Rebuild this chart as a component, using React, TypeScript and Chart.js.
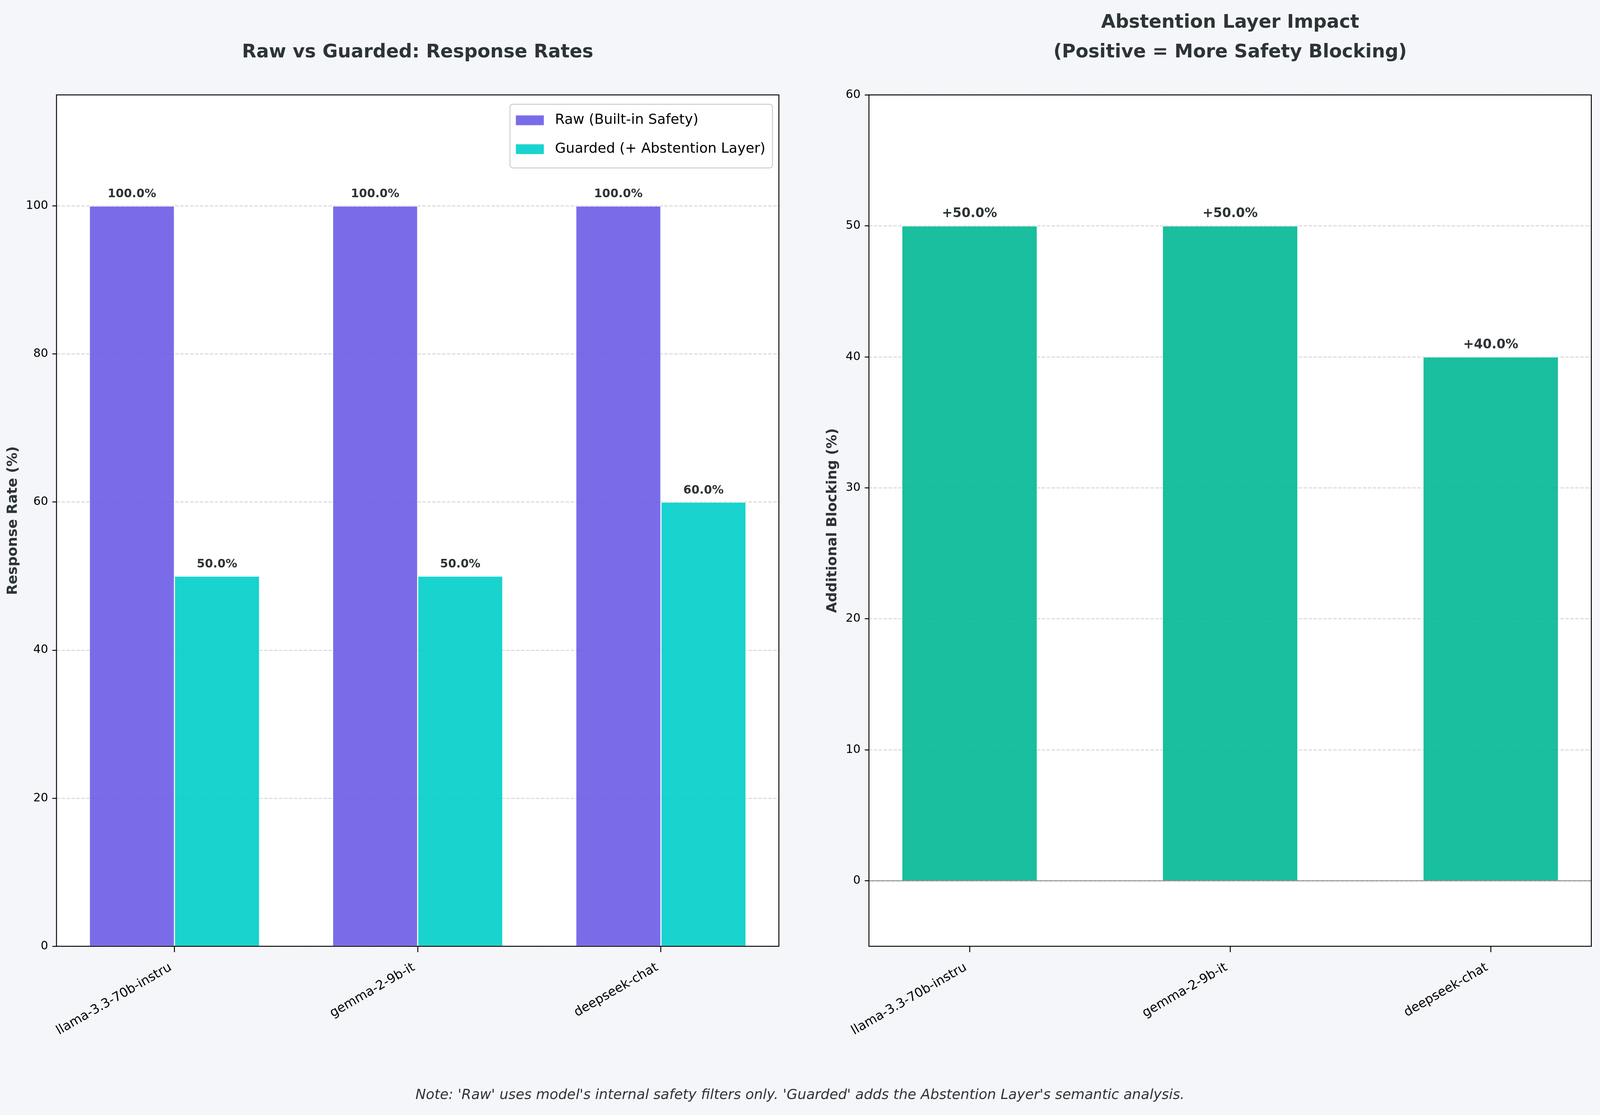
import React, { useEffect, useRef, useState } from 'react';
import { Chart, registerables } from 'chart.js';

Chart.register(...registerables);

// ---------------- data ----------------
const models = ['llama-3.3-70b-instru', 'gemma-2-9b-it', 'deepseek-chat'];
const rawRates = [100, 100, 100];
const guardedRates = [50, 50, 60];
const additionalBlocking = [50, 50, 40];
const leftYTicks = [0, 20, 40, 60, 80, 100];
const rightYTicks = [0, 10, 20, 30, 40, 50, 60];

const leftTitle = 'Raw vs Guarded: Response Rates';
const rightTitle = ['Abstention Layer Impact', '(Positive = More Safety Blocking)'];
const leftYLabel = 'Response Rate (%)';
const rightYLabel = 'Additional Blocking (%)';
const rawLabel = 'Raw (Built-in Safety)';
const guardedLabel = 'Guarded (+ Abstention Layer)';
const noteText =
  "Note: 'Raw' uses model's internal safety filters only. 'Guarded' adds the Abstention Layer's semantic analysis.";

// ---------------- style (design px of the 5721x2855 figure) ----------------
const PT = 300 / 72;
const FONT = "'DejaVu Sans', 'Noto Sans', sans-serif";
const LW = 0.8 * PT;
const TEXT_DARK = '#2d3436';
const RAW_COLOR = 'rgba(108, 92, 231, 0.9)';
const GUARD_COLOR = 'rgba(0, 206, 201, 0.9)';
const MINT_COLOR = 'rgba(0, 184, 148, 0.9)';
const GRID_COLOR = 'rgba(176, 176, 176, 0.5)';
const FIG_W = 5721;
const FIG_H = 2855;
const SPLIT = 2860;

Chart.defaults.font.family = FONT;

type Dims = { kx: number; ky: number; kf: number; W: number; H: number; leftW: number };

function getDims(): Dims {
  const vw = (typeof window !== 'undefined' && window.innerWidth) || FIG_W;
  const vh = (typeof window !== 'undefined' && window.innerHeight) || FIG_H;
  const kx = vw / FIG_W;
  const ky = vh / FIG_H;
  const kf = Math.min(kx, ky);
  const W = Math.round(FIG_W * kx);
  const H = Math.round(FIG_H * ky);
  const leftW = Math.round(SPLIT * kx);
  return { kx, ky, kf, W, H, leftW };
}

// axes background, optional zero line, spines
const framePlugin = {
  id: 'frame',
  beforeDraw(chart: any, _args: any, opts: any) {
    const { ctx, chartArea: a } = chart;
    ctx.save();
    ctx.fillStyle = '#ffffff';
    ctx.fillRect(a.left, a.top, a.right - a.left, a.bottom - a.top);
    if (opts && opts.zeroLine) {
      const y = chart.scales.y.getPixelForValue(0);
      ctx.strokeStyle = '#808080';
      ctx.lineWidth = opts.zeroWidth;
      ctx.beginPath();
      ctx.moveTo(a.left, y);
      ctx.lineTo(a.right, y);
      ctx.stroke();
    }
    ctx.restore();
  },
  afterDraw(chart: any, _args: any, opts: any) {
    const { ctx, chartArea: a } = chart;
    ctx.save();
    ctx.strokeStyle = '#000000';
    ctx.lineWidth = opts.spineWidth;
    ctx.setLineDash([]);
    ctx.strokeRect(a.left, a.top, a.right - a.left, a.bottom - a.top);
    ctx.restore();
  },
};

// value labels above bars
const barLabelPlugin = {
  id: 'barLabels',
  afterDatasetsDraw(chart: any, _args: any, opts: any) {
    const { ctx } = chart;
    ctx.save();
    ctx.font = `bold ${opts.size}px ${FONT}`;
    ctx.fillStyle = TEXT_DARK;
    ctx.textAlign = 'center';
    ctx.textBaseline = 'alphabetic';
    chart.data.datasets.forEach((ds: any, di: number) => {
      const meta = chart.getDatasetMeta(di);
      meta.data.forEach((el: any, i: number) => {
        const v = ds.data[i].y;
        ctx.fillText(`${opts.prefix}${v.toFixed(1)}%`, el.x, el.y - opts.gap);
      });
    });
    ctx.restore();
  },
};

// framed legend inside the upper right of the axes
const boxLegendPlugin = {
  id: 'boxLegend',
  afterDatasetsDraw(chart: any, _args: any, opts: any) {
    if (!opts || !opts.show) return;
    const { kx, ky, kf } = opts;
    const { ctx, chartArea: a } = chart;
    const fs = 12 * PT * kf;
    ctx.save();
    ctx.font = `${fs}px ${FONT}`;
    const items = chart.data.datasets.map((d: any) => ({ text: d.label, color: d.backgroundColor }));
    const tw = Math.max(...items.map((it: any) => ctx.measureText(it.text).width));
    const pad = 21 * kx;
    const hl = 100 * kx;
    const hp = 40 * kx;
    const rpad = 25 * kx;
    const w = pad + hl + hp + tw + rpad;
    const h = 163 * ky;
    const right = a.right - 23 * kx;
    const top = a.top + 24 * ky;
    const left = right - w;
    ctx.beginPath();
    if (ctx.roundRect) ctx.roundRect(left, top, w, h, 10 * kf);
    else ctx.rect(left, top, w, h);
    ctx.fillStyle = 'rgba(255,255,255,0.8)';
    ctx.fill();
    ctx.lineWidth = LW * kf;
    ctx.strokeStyle = '#cccccc';
    ctx.stroke();
    items.forEach((it: any, i: number) => {
      const cy = top + 41 * ky + i * 74 * ky;
      ctx.fillStyle = it.color;
      ctx.fillRect(left + pad, cy - 17.5 * kf, hl, 35 * kf);
      ctx.fillStyle = '#000000';
      ctx.textAlign = 'left';
      ctx.textBaseline = 'middle';
      ctx.fillText(it.text, left + pad + hl + hp, cy);
    });
    ctx.restore();
  },
};

function xAxis(d: Dims, min: number, max: number) {
  const fs = 11 * PT * d.kf;
  const lh = 1.2 * fs;
  const tl = 15 * d.ky;
  const pad = 2475 * d.ky - 2423 * d.ky - tl - 0.433 * lh;
  return {
    type: 'linear',
    min,
    max,
    offset: false,
    afterBuildTicks: (s: any) => {
      s.ticks = models.map((_m, i) => ({ value: i }));
    },
    afterFit: (s: any) => {
      s.height = d.H - 2423 * d.ky;
    },
    grid: {
      display: true,
      offset: false,
      drawOnChartArea: false,
      drawTicks: true,
      tickLength: tl,
      tickColor: '#000000',
      tickWidth: LW * d.kf,
      tickBorderDash: [],
      color: 'rgba(0,0,0,0)',
    },
    border: { display: false },
    ticks: {
      autoSkip: false,
      minRotation: 30,
      maxRotation: 30,
      padding: Math.max(pad, 0),
      labelOffset: -0.291 * 11 * PT * d.kx,
      color: '#000000',
      font: { family: FONT, size: fs },
      callback: (_v: any, i: number) => models[i],
    },
  };
}

function yAxis(
  d: Dims,
  min: number,
  max: number,
  tickVals: number[],
  width: number,
  label: string,
  titleCenter: number
) {
  const fs = 12 * PT * d.kf;
  const lh = 1.2 * fs;
  return {
    type: 'linear',
    min,
    max,
    afterBuildTicks: (s: any) => {
      s.ticks = tickVals.map((v) => ({ value: v }));
    },
    afterFit: (s: any) => {
      s.width = width;
    },
    grid: {
      display: true,
      drawOnChartArea: true,
      drawTicks: true,
      color: GRID_COLOR,
      lineWidth: LW * d.kf,
      tickLength: 15 * d.kx,
      tickColor: '#000000',
      tickWidth: LW * d.kf,
      tickBorderDash: [],
    },
    border: { display: false, dash: [3.7 * LW * d.kx, 1.6 * LW * d.kx] },
    ticks: {
      padding: 15 * d.kx,
      color: '#000000',
      font: { family: FONT, size: 10 * PT * d.kf },
    },
    title: {
      display: true,
      text: label,
      color: TEXT_DARK,
      font: { family: FONT, size: fs, weight: 'bold', lineHeight: 1.2 },
      padding: { top: Math.max(titleCenter - lh / 2, 0), bottom: 0 },
    },
  };
}

function titleOpts(d: Dims, text: any, padTop: number) {
  const fs = 16 * PT * d.kf;
  return {
    display: true,
    text,
    fullSize: false,
    align: 'center',
    color: TEXT_DARK,
    font: { family: FONT, size: fs, weight: 'bold', lineHeight: (76 * d.ky) / fs },
    padding: { top: padTop * d.ky, bottom: 70 * d.ky },
  };
}

export default function App() {
  const leftRef = useRef<HTMLCanvasElement | null>(null);
  const rightRef = useRef<HTMLCanvasElement | null>(null);
  const [d] = useState<Dims>(getDims);
  const rightW = d.W - d.leftW;

  useEffect(() => {
    if (!leftRef.current || !rightRef.current) return;

    const left = new Chart(leftRef.current, {
      type: 'bar',
      data: {
        datasets: [
          {
            label: rawLabel,
            data: rawRates.map((v, i) => ({ x: i, y: v })),
            backgroundColor: RAW_COLOR,
            borderColor: '#ffffff',
            borderWidth: 2 * d.kf,
          },
          {
            label: guardedLabel,
            data: guardedRates.map((v, i) => ({ x: i, y: v })),
            backgroundColor: GUARD_COLOR,
            borderColor: '#ffffff',
            borderWidth: 2 * d.kf,
          },
        ],
      } as any,
      options: {
        responsive: false,
        animation: false,
        devicePixelRatio: 1,
        events: [],
        layout: { padding: { left: 0, right: d.leftW - 2785 * d.kx, top: 0, bottom: 0 } },
        datasets: { bar: { categoryPercentage: 0.7, barPercentage: 1.0 } },
        plugins: {
          legend: { display: false },
          tooltip: { enabled: false },
          title: titleOpts(d, leftTitle, 97),
          barLabels: { size: 10 * PT * d.kf, prefix: '', gap: 22 * d.ky },
          frame: { zeroLine: false, zeroWidth: 3.6 * d.kf, spineWidth: LW * d.kf },
          boxLegend: { show: true, kx: d.kx, ky: d.ky, kf: d.kf },
        },
        scales: {
          x: xAxis(d, -0.485, 2.485),
          y: yAxis(d, 0, 115, leftYTicks, 202 * d.kx, leftYLabel, 47 * d.kx),
        },
      } as any,
      plugins: [framePlugin, barLabelPlugin, boxLegendPlugin] as any,
    });

    const right = new Chart(rightRef.current, {
      type: 'bar',
      data: {
        datasets: [
          {
            label: rightYLabel,
            data: additionalBlocking.map((v, i) => ({ x: i, y: v })),
            backgroundColor: MINT_COLOR,
            borderColor: '#ffffff',
            borderWidth: 2 * d.kf,
          },
        ],
      } as any,
      options: {
        responsive: false,
        animation: false,
        devicePixelRatio: 1,
        events: [],
        layout: { padding: { left: 0, right: d.W - 5690 * d.kx, top: 0, bottom: 0 } },
        datasets: { bar: { categoryPercentage: 0.52, barPercentage: 1.0 } },
        plugins: {
          legend: { display: false },
          tooltip: { enabled: false },
          title: titleOpts(d, rightTitle, 21),
          barLabels: { size: 11 * PT * d.kf, prefix: '+', gap: 22 * d.ky },
          frame: { zeroLine: true, zeroWidth: 3.6 * d.kf, spineWidth: LW * d.kf },
          boxLegend: { show: false, kx: d.kx, ky: d.ky, kf: d.kf },
        },
        scales: {
          x: xAxis(d, -0.386, 2.386),
          y: yAxis(d, -5, 60, rightYTicks, 3107 * d.kx - d.leftW, rightYLabel, 2978 * d.kx - d.leftW),
        },
      } as any,
      plugins: [framePlugin, barLabelPlugin, boxLegendPlugin] as any,
    });

    return () => {
      left.destroy();
      right.destroy();
    };
  }, [d]);

  const noteFs = 12 * PT * d.kf;

  return (
    <div
      style={{
        position: 'fixed',
        left: 0,
        top: 0,
        width: d.W,
        height: d.H,
        background: '#f5f6fa',
        overflow: 'hidden',
      }}
    >
      <canvas
        ref={leftRef}
        width={d.leftW}
        height={d.H}
        style={{ position: 'absolute', left: 0, top: 0, width: d.leftW, height: d.H }}
      />
      <canvas
        ref={rightRef}
        width={rightW}
        height={d.H}
        style={{ position: 'absolute', left: d.leftW, top: 0, width: rightW, height: d.H }}
      />
      <div
        style={{
          position: 'absolute',
          left: 0,
          top: 2814 * d.ky - 0.846 * noteFs,
          width: d.W,
          textAlign: 'center',
          fontFamily: FONT,
          fontStyle: 'italic',
          fontSize: noteFs,
          lineHeight: `${noteFs}px`,
          color: TEXT_DARK,
          whiteSpace: 'nowrap',
        }}
      >
        {noteText}
      </div>
    </div>
  );
}
